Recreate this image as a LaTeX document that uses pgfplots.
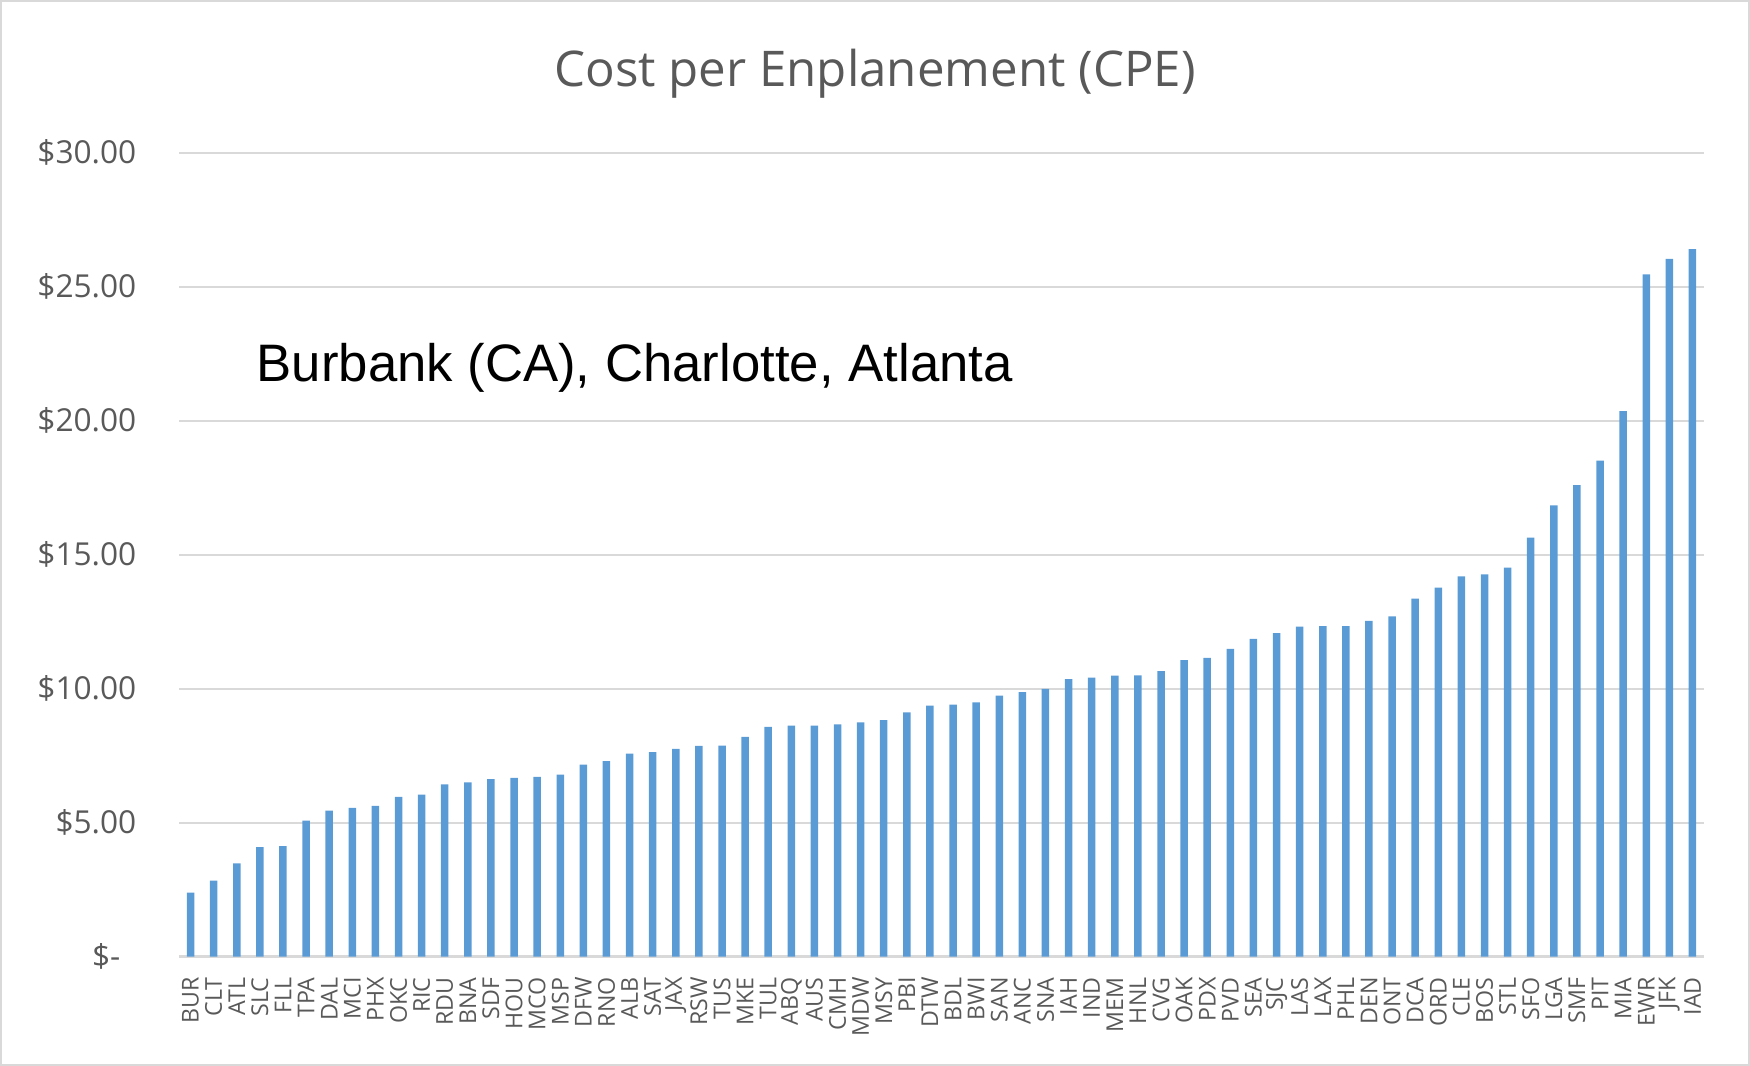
\documentclass[border=0pt]{standalone}
\usepackage{pgfplots}
\pgfplotsset{compat=1.18}
\usepackage{fontspec}
\setmainfont{Open Sans}
\newfontfamily\arialfont{Liberation Sans}
\definecolor{txtgray}{HTML}{595959}
\definecolor{gridgray}{HTML}{D9D9D9}
\definecolor{barblue}{HTML}{5B9BD5}
\begin{document}
\begin{tikzpicture}
\path[use as bounding box] (0,0) rectangle (175mm,106.6mm);
\draw[gridgray, line width=0.2mm] (0.1mm,0.1mm) rectangle (174.9mm,106.5mm);
\begin{axis}[
  at={(17.9mm,10.93mm)}, anchor=south west,
  scale only axis, width=152.5mm, height=80.4mm,
  xmin=-0.5, xmax=65.5, ymin=0, ymax=30,
  axis x line*=bottom, axis y line*=left,
  x axis line style={gridgray, line width=0.25mm, -},
  y axis line style={draw=none},
  ytick={0,5,10,15,20,25,30},
  yticklabels={\$-\kern1.6mm,\$5.00,\$10.00,\$15.00,\$20.00,\$25.00,\$30.00},
  ymajorgrids, major grid style={gridgray, line width=0.2mm},
  major tick length=0pt,
  tick style={draw=none},
  y tick label style={font=\fontsize{9}{10}\selectfont, text=txtgray, anchor=east, inner sep=0pt},
  yticklabel shift=4.2mm,
  xtick=data,
  xticklabels={BUR,CLT,ATL,SLC,FLL,TPA,DAL,MCI,PHX,OKC,RIC,RDU,BNA,SDF,HOU,MCO,MSP,DFW,RNO,ALB,SAT,JAX,RSW,TUS,MKE,TUL,ABQ,AUS,CMH,MDW,MSY,PBI,DTW,BDL,BWI,SAN,ANC,SNA,IAH,IND,MEM,HNL,CVG,OAK,PDX,PVD,SEA,SJC,LAS,LAX,PHL,DEN,ONT,DCA,ORD,CLE,BOS,STL,SFO,LGA,SMF,PIT,MIA,EWR,JFK,IAD},
  x tick label style={font=\fontsize{6.6}{7}\selectfont, text=txtgray, rotate=90, anchor=east, inner sep=0pt},
  xticklabel shift=2mm,
  clip=false,
]
\addplot[ybar, bar width=0.75mm, fill=barblue, draw=none] coordinates {
(0,2.39) (1,2.84) (2,3.48) (3,4.09) (4,4.13) (5,5.08) (6,5.45) (7,5.55) (8,5.63) (9,5.96)
(10,6.05) (11,6.43) (12,6.50) (13,6.63) (14,6.67) (15,6.71) (16,6.79) (17,7.17) (18,7.30) (19,7.58)
(20,7.63) (21,7.75) (22,7.87) (23,7.88) (24,8.20) (25,8.58) (26,8.62) (27,8.62) (28,8.67) (29,8.74)
(30,8.83) (31,9.12) (32,9.37) (33,9.41) (34,9.49) (35,9.74) (36,9.87) (37,9.99) (38,10.36) (39,10.41)
(40,10.49) (41,10.50) (42,10.66) (43,11.07) (44,11.15) (45,11.49) (46,11.86) (47,12.07) (48,12.32) (49,12.33)
(50,12.33) (51,12.53) (52,12.70) (53,13.36) (54,13.77) (55,14.19) (56,14.27) (57,14.52) (58,15.64) (59,16.84)
(60,17.60) (61,18.51) (62,20.36) (63,25.46) (64,26.04) (65,26.40)
};
\end{axis}
\node[anchor=base, inner sep=0pt, text=txtgray, font=\fontsize{14}{16}\selectfont] at (87.5mm,97.9mm) {Cost per Enplanement (CPE)};
\node[anchor=base west, inner sep=0pt, text=black, font=\arialfont\fontsize{15}{18}\selectfont] at (25.6mm,68.4mm) {Burbank (CA), Charlotte, Atlanta};
\end{tikzpicture}
\end{document}
